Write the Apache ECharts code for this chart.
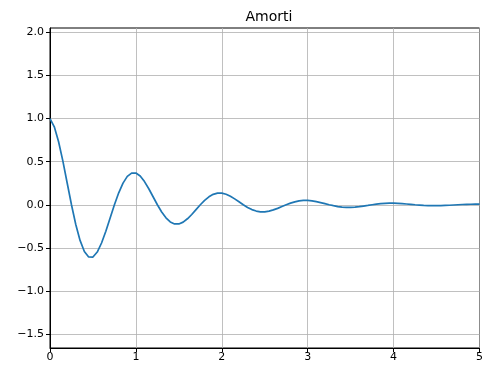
<!DOCTYPE html>
<html>
<head>
<meta charset="utf-8">
<script src="https://cdn.jsdelivr.net/npm/echarts@6/dist/echarts.min.js"></script>
<style>html,body{margin:0;padding:0;background:#fff;}#c{width:486px;height:369px;}</style>
</head>
<body>
<div id="c"></div>
<script>
const titleText = "Amorti";
const tValues = [];
for (let k = 0; k <= 100; k++) tValues.push(+(k * 0.05).toFixed(2));
const yValues = [
  1.000, 0.905, 0.732, 0.506, 0.253, 0.000, -0.229, -0.414, -0.542, -0.606,
  -0.607, -0.549, -0.444, -0.307, -0.153, 0.000, 0.139, 0.251, 0.329, 0.368,
  0.368, 0.333, 0.269, 0.186, 0.093, 0.000, -0.084, -0.152, -0.200, -0.223,
  -0.223, -0.202, -0.163, -0.113, -0.056, 0.000, 0.051, 0.092, 0.121, 0.135,
  0.135, 0.122, 0.099, 0.068, 0.034, 0.000, -0.031, -0.056, -0.073, -0.082,
  -0.082, -0.074, -0.060, -0.042, -0.021, 0.000, 0.019, 0.034, 0.045, 0.050,
  0.050, 0.045, 0.036, 0.025, 0.013, 0.000, -0.011, -0.021, -0.027, -0.030,
  -0.030, -0.027, -0.022, -0.015, -0.008, 0.000, 0.007, 0.013, 0.016, 0.018,
  0.018, 0.017, 0.013, 0.009, 0.005, 0.000, -0.004, -0.008, -0.010, -0.011,
  -0.011, -0.010, -0.008, -0.006, -0.003, 0.000, 0.003, 0.005, 0.006, 0.007,
  0.007
];
const xTicks = [0, 1, 2, 3, 4, 5];
const yTicks = [-1.5, -1.0, -0.5, 0.0, 0.5, 1.0, 1.5, 2.0];

const points = tValues.map((t, i) => [t, yValues[i]]);
const font = "DejaVu Sans";
const chart = echarts.init(document.getElementById('c'), null, {renderer: 'canvas'});
chart.setOption({
  animation: false,
  backgroundColor: '#ffffff',
  title: {
    text: titleText,
    left: 264, top: 5, textAlign: 'center',
    textStyle: {fontFamily: font, fontSize: 14, fontWeight: 'normal', color: '#000'}
  },
  grid: {left: 50, right: 6, top: 28, bottom: 21, show: true, borderColor: '#000', borderWidth: 1, backgroundColor: 'transparent'},
  xAxis: {
    type: 'value', min: 0, max: 5, interval: 1,
    axisLine: {show: true, onZero: false, lineStyle: {color: '#000', width: 1}},
    axisTick: {show: true, inside: false, length: 4, lineStyle: {color: '#000'}},
    axisLabel: {color: '#000', fontFamily: font, fontSize: 11, margin: 4,
      formatter: v => xTicks.includes(v) ? String(v) : ''},
    splitLine: {show: true, lineStyle: {color: '#b0b0b0', width: 0.8}}
  },
  yAxis: {
    type: 'value', min: -1.663, max: 2.052, interval: 0.5,
    axisLine: {show: true, onZero: false, lineStyle: {color: '#000', width: 1}},
    axisTick: {show: true, inside: false, length: 4, lineStyle: {color: '#000'}, customValues: yTicks},
    axisLabel: {color: '#000', fontFamily: font, fontSize: 11, margin: 6, customValues: yTicks,
      formatter: v => (v < 0 ? '\u2212' : '') + Math.abs(v).toFixed(1)},
    splitLine: {show: true, lineStyle: {color: '#b0b0b0', width: 0.8}}
  },
  series: [{
    type: 'line', data: points, showSymbol: false, smooth: false,
    lineStyle: {color: '#1f77b4', width: 1.7}, clip: true
  }]
});
</script>
</body>
</html>
